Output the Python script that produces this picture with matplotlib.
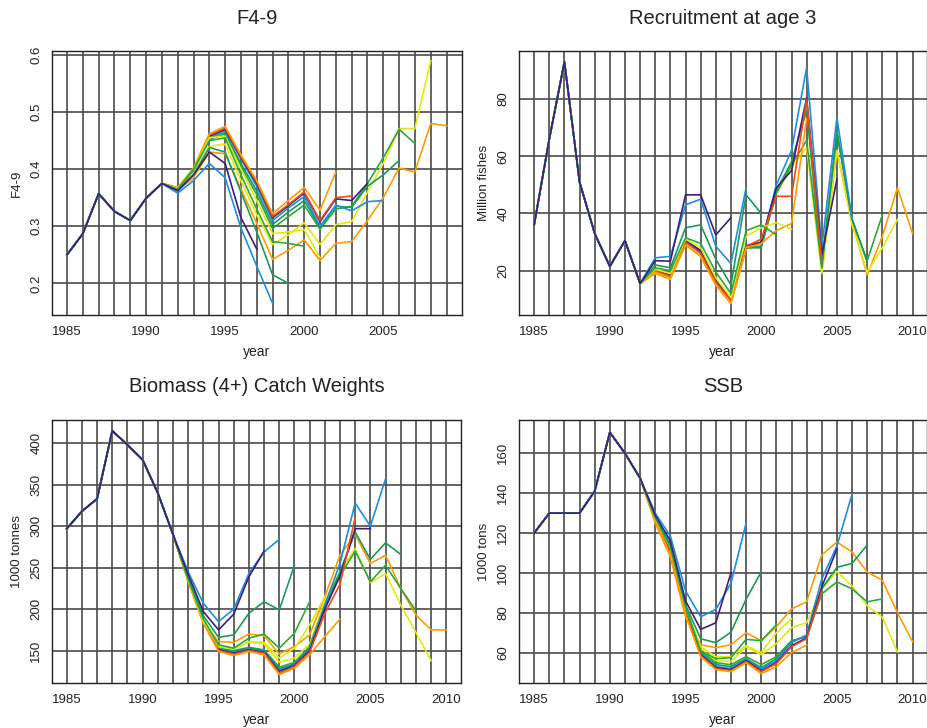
"""
Retrospective runs (terminal years 1997-2009): F4-9, recruitment, biomass, SSB
"""

import matplotlib.pyplot as plt
import numpy as np

plt.rcParams['font.family'] = ['Liberation Sans', 'DejaVu Sans']

# ----- Data -----
run_years = list(range(1997, 2010))   # terminal year of each retrospective run

# F4-9: shared history 1985-1991, runs from 1992 to terminal year
f_hist_years = list(range(1985, 1992))
f_hist = [0.25, 0.287, 0.357, 0.326, 0.31, 0.349, 0.375]
f_start = 1992
f_1997 = [0.362, 0.39, 0.43, 0.41, 0.315, 0.26]
f_1998 = [0.358, 0.38, 0.41, 0.385, 0.297, 0.23, 0.165]
f_1999 = [0.363, 0.39, 0.438, 0.43, 0.36, 0.29, 0.215, 0.2]
f_2000 = [0.365, 0.4, 0.45, 0.455, 0.39, 0.33, 0.273, 0.27, 0.265]
f_2001 = [0.366, 0.4, 0.455, 0.458, 0.4, 0.345, 0.287, 0.29, 0.294, 0.245]
f_2002 = [0.368, 0.402, 0.462, 0.475, 0.425, 0.38, 0.322, 0.345, 0.368, 0.328, 0.395]
f_2003 = [0.367, 0.401, 0.46, 0.472, 0.422, 0.378, 0.317, 0.338, 0.36, 0.31, 0.35, 0.353]
f_2004 = [0.366, 0.4, 0.458, 0.47, 0.42, 0.375, 0.315, 0.336, 0.358, 0.308, 0.348, 0.345,
          0.375]
f_2005 = [0.365, 0.4, 0.457, 0.468, 0.418, 0.37, 0.31, 0.332, 0.352, 0.3, 0.337, 0.327,
          0.343, 0.345]
f_2006 = [0.365, 0.398, 0.452, 0.462, 0.41, 0.362, 0.303, 0.325, 0.345, 0.298, 0.335, 0.333,
          0.37, 0.39, 0.415]
f_2007 = [0.366, 0.399, 0.455, 0.465, 0.405, 0.355, 0.296, 0.317, 0.337, 0.295, 0.33, 0.335,
          0.375, 0.42, 0.47, 0.445]
f_2008 = [0.364, 0.395, 0.44, 0.444, 0.38, 0.32, 0.268, 0.285, 0.306, 0.268, 0.303, 0.308,
          0.36, 0.41, 0.471, 0.471, 0.59]
f_2009 = [0.363, 0.385, 0.43, 0.427, 0.365, 0.305, 0.242, 0.258, 0.276, 0.24, 0.27, 0.273,
          0.31, 0.35, 0.402, 0.395, 0.48, 0.476]

# Recruitment at age 3 (million fishes): history 1985-1992, runs from 1993 to terminal+1
r_hist_years = list(range(1985, 1993))
r_hist = [36, 66, 93, 51, 33, 21.5, 30.5, 15.5]
r_start = 1993
r_1997 = [23.5, 23.3, 46.5, 46.5, 32.5, 38.5]
r_1998 = [24.5, 25, 43, 45, 28.5, 22.5, 49]
r_1999 = [22, 21, 35, 36, 24, 15, 46.5, 40]
r_2000 = [21, 20, 31.5, 29.5, 19.5, 12, 34, 36, 32.5]
r_2001 = [20.5, 19, 31, 28, 17.5, 10.5, 32, 35, 36.8, 34.5]
r_2002 = [19.5, 17.5, 29, 25, 15, 8.5, 28, 29.5, 34, 36.5, 73]
r_2003 = [20, 18, 30, 26, 16, 9.5, 28.5, 31, 46, 46, 80, 23]
r_2004 = [20, 18.5, 30.5, 27, 16.5, 10, 28.5, 30, 49, 55, 80.5, 25.5, 52]
r_2005 = [20, 18, 30, 27, 16.5, 10, 29, 29.5, 50, 62, 91, 28, 73.5, 38]
r_2006 = [20, 18, 30, 26.5, 16, 10, 28, 28, 48, 58, 76, 22, 68, 38, 23]
r_2007 = [20, 18, 30.5, 27, 16.5, 10.5, 28, 28.5, 47, 57, 65.5, 21, 69, 38, 23.5, 39.5]
r_2008 = [19.5, 17.5, 30, 26.5, 15.5, 9.5, 27.5, 29, 47, 56, 63, 19, 62, 36, 19.5, 28, 38]
r_2009 = [19, 17, 29, 25, 15, 8.5, 27.5, 29.5, 48, 57, 78, 19.5, 62, 37, 18.5, 32, 49, 33]

# Biomass 4+ (1000 tonnes)
b_hist_years = list(range(1985, 1993))
b_hist = [297, 318, 333, 415, 398, 380, 340, 290]
b_start = 1993
b_1997 = [242, 197, 175, 194, 239, 270]
b_1998 = [245, 207, 185, 200, 243, 269, 284]
b_1999 = [238, 192, 166, 169, 195, 209, 199, 253]
b_2000 = [236, 188, 157, 153, 165, 170, 153, 171, 209]
b_2001 = [235, 186, 155, 152, 161, 160, 141, 153, 181, 215]
b_2002 = [233, 183, 149, 144, 149, 145, 121, 129, 145, 167, 188]
b_2003 = [234, 184, 150, 146, 150, 147, 123, 131, 148, 195, 230, 310]
b_2004 = [235, 185, 151, 147, 151, 148, 125, 132, 150, 200, 240, 297, 297]
b_2005 = [236, 186, 152, 148, 152, 149, 126, 133, 152, 205, 255, 328, 300, 357]
b_2006 = [236, 186, 152, 149, 153, 150, 128, 134, 153, 203, 245, 293, 260, 280, 266]
b_2007 = [236, 187, 153, 150, 154, 151, 130, 136, 155, 205, 240, 270, 233, 253, 225, 198]
b_2008 = [235, 186, 155, 152, 160, 158, 136, 141, 158, 210, 245, 273, 232, 243, 205, 172,
          138]
b_2009 = [234, 184, 161, 160, 170, 168, 146, 155, 169, 215, 265, 290, 255, 265, 225, 193,
          175, 175]

# SSB (1000 tons)
s_hist_years = list(range(1985, 1993))
s_hist = [120, 130, 130, 130, 141, 170.5, 160, 147.5]
s_start = 1993
s_1997 = [129, 116, 86, 71.7, 75, 100]
s_1998 = [130, 118.5, 91, 78, 81.7, 94.8, 124.9]
s_1999 = [128, 114, 84, 67, 65, 70.3, 86.8, 100.5]
s_2000 = [128, 113, 83, 61, 57, 57.5, 66.7, 66, 74]
s_2001 = [127.5, 112.5, 82.5, 63, 58, 58, 63.5, 60, 70, 77]
s_2002 = [126, 109, 79, 58, 51.5, 50.5, 55, 49.5, 53, 60, 63.8]
s_2003 = [126.5, 110, 80, 58.5, 52, 51, 55.5, 50.5, 54.5, 63, 67, 91]
s_2004 = [127, 111, 80.5, 59, 52.5, 51.5, 56, 51, 55, 63.5, 67.5, 93, 112]
s_2005 = [127.5, 112, 81, 59.5, 53, 52, 56.5, 52, 56, 65, 69, 97, 113.5, 139.5]
s_2006 = [127.5, 112, 81.5, 60, 54, 53, 57, 52.5, 57, 65.5, 68.5, 92, 102.8, 104.8, 114]
s_2007 = [127.5, 112.5, 82, 61, 55, 54, 58, 54, 58, 66, 68, 89.5, 95.5, 92, 85.5, 87]
s_2008 = [127, 112, 82.5, 62, 56, 55.5, 63, 59, 64.6, 72.6, 75, 92, 100.7, 93.5, 83.6,
          77.7, 60.3]
s_2009 = [125, 108, 78, 64, 62.5, 64, 70, 66, 73, 82, 85.5, 109, 115.5, 110.5, 100.5, 96.3,
          80, 65.5]

f_runs = [f_1997, f_1998, f_1999, f_2000, f_2001, f_2002, f_2003,
          f_2004, f_2005, f_2006, f_2007, f_2008, f_2009]
r_runs = [r_1997, r_1998, r_1999, r_2000, r_2001, r_2002, r_2003,
          r_2004, r_2005, r_2006, r_2007, r_2008, r_2009]
b_runs = [b_1997, b_1998, b_1999, b_2000, b_2001, b_2002, b_2003,
          b_2004, b_2005, b_2006, b_2007, b_2008, b_2009]
s_runs = [s_1997, s_1998, s_1999, s_2000, s_2001, s_2002, s_2003,
          s_2004, s_2005, s_2006, s_2007, s_2008, s_2009]

# colour cycle used for the runs
palette = ['#3f1d7a', '#1d8fe0', '#1b9a5a', '#29ab3c', '#e2ea10', '#ff9d00', '#ee4c17']

# ----- Plot -----
W, H = 928, 728
fig = plt.figure(figsize=(W / 100, H / 100), dpi=100)


def px_axes(left, top, right, bottom):
    return fig.add_axes([left / W, 1 - bottom / H, (right - left) / W, (bottom - top) / H])


panels = [
    dict(rect=(52, 51, 462, 315), title='F4-9', title_y=18, ylabel='F4-9',
         hist_x=f_hist_years, hist=f_hist, start=f_start, runs=f_runs,
         xlim=(1984.05, 2009.98), grid_x=range(1985, 2010), xticks=range(1985, 2010, 5),
         ylim=(0.1445, 0.607), yticks=[0.2, 0.3, 0.4, 0.5, 0.6], yfmt='{:.1f}'),
    dict(rect=(519, 51, 927, 315), title='Recruitment at age 3', title_y=18,
         ylabel='Million fishes',
         hist_x=r_hist_years, hist=r_hist, start=r_start, runs=r_runs,
         xlim=(1984.0, 2010.95), grid_x=range(1985, 2011), xticks=range(1985, 2011, 5),
         ylim=(4.5, 96.8), yticks=[20, 40, 60, 80], yfmt='{:.0f}'),
    dict(rect=(52, 420, 461, 683), title='Biomass (4+) Catch Weights', title_y=386,
         ylabel='1000 tonnes',
         hist_x=b_hist_years, hist=b_hist, start=b_start, runs=b_runs,
         xlim=(1984.03, 2010.97), grid_x=range(1985, 2011), xticks=range(1985, 2011, 5),
         ylim=(111, 428), yticks=[150, 200, 250, 300, 350, 400], yfmt='{:.0f}'),
    dict(rect=(519, 420, 927, 683), title='SSB', title_y=386, ylabel='1000 tons',
         hist_x=s_hist_years, hist=s_hist, start=s_start, runs=s_runs,
         xlim=(1984.0, 2010.95), grid_x=range(1985, 2011), xticks=range(1985, 2011, 5),
         ylim=(44.8, 176.7), yticks=[60, 80, 100, 120, 140, 160], yfmt='{:.0f}'),
]

for p in panels:
    l, t, r, b = p['rect']
    ax = px_axes(l, t, r, b)

    # year and value grid
    for yr in p['grid_x']:
        ax.axvline(yr, color='#4a4a4a', lw=1.2, zorder=1)
    for yv in p['yticks']:
        ax.axhline(yv, color='#4a4a4a', lw=1.2, zorder=1)

    # newest run first so the oldest run sits on top of the shared history
    for i in reversed(range(len(p['runs']))):
        tail = p['runs'][i]
        xs = list(p['hist_x']) + list(range(p['start'], p['start'] + len(tail)))
        ys = list(p['hist']) + list(tail)
        ax.plot(xs, ys, color=palette[i % len(palette)], lw=1.2, zorder=3)

    ax.set_xlim(*p['xlim'])
    ax.set_ylim(*p['ylim'])
    ax.set_xticks(list(p['xticks']))
    ax.set_yticks(p['yticks'])
    ax.set_yticklabels([p['yfmt'].format(v) for v in p['yticks']],
                       rotation=90, va='center')
    ax.tick_params(length=0, labelsize=9.5, colors='#222222')
    ax.tick_params(axis='x', pad=8)
    ax.tick_params(axis='y', pad=7)
    for sp in ax.spines.values():
        sp.set_color('#222222')
        sp.set_linewidth(1.0)

    cx = (l + r) / 2
    fig.text(cx / W, 1 - p['title_y'] / H, p['title'], ha='center', va='center',
             fontsize=14.5, color='#222222')
    fig.text(cx / W, 1 - (b + 37) / H, 'year', ha='center', va='center',
             fontsize=10, color='#222222')
    fig.text((l - 35) / W, 1 - ((t + b) / 2) / H, p['ylabel'], rotation=90,
             ha='center', va='center', fontsize=9.5, color='#222222')

plt.savefig('out.png', dpi=100)
